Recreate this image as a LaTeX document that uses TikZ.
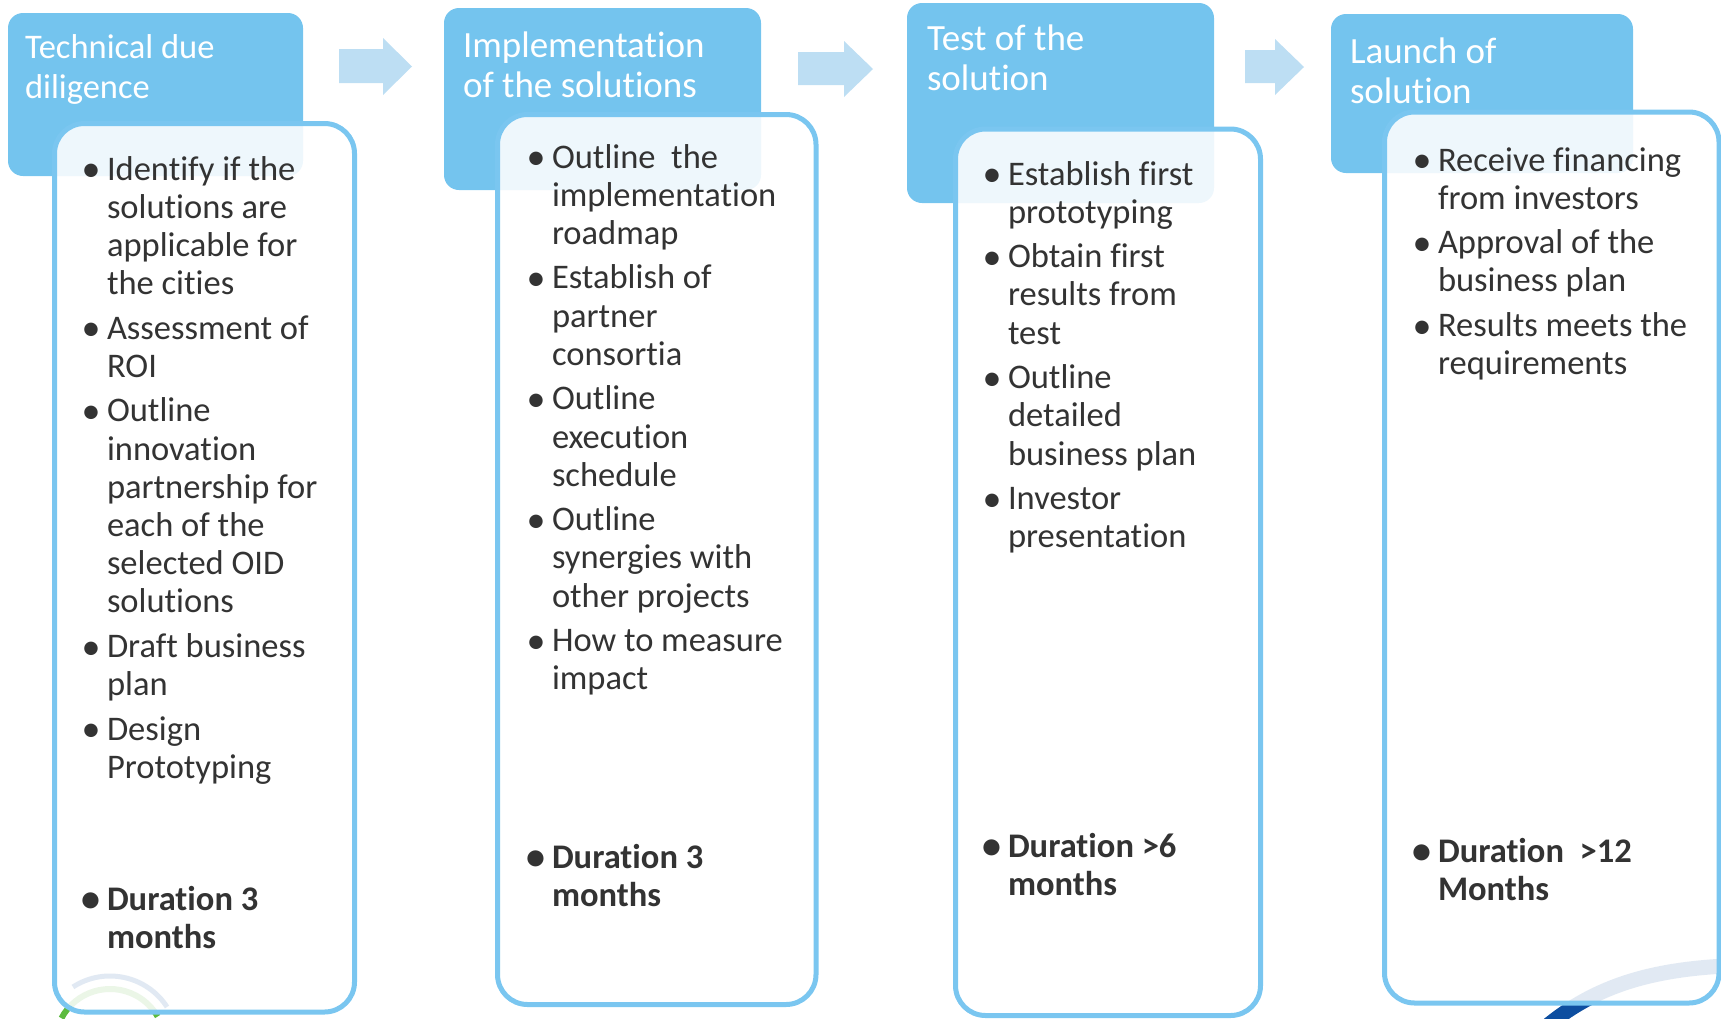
\documentclass[tikz,border=0pt]{standalone}
\usepackage{fontspec}
\setmainfont{Carlito}[Ligatures=NoCommon]

\definecolor{hdrblue}{HTML}{74C4EE}
\definecolor{rimblue}{HTML}{7AC6F0}
\definecolor{arrowblue}{HTML}{BDDEF3}
\definecolor{inkgray}{HTML}{333333}
\definecolor{logoblue}{HTML}{0D4EA0}
\definecolor{logogreen}{HTML}{5DBB3F}

% hanging bullet items (lines broken with \newline so the hanging indent holds)
\newlength\bind
\setlength\bind{21pt}
\newcommand\bdot{\hspace*{-4.5pt}\raisebox{-1.8pt}{\fontsize{38}{38}\selectfont\textbullet}}
\newcommand\bpoint[1]{\hangindent=\bind\hangafter=1\noindent\makebox[\bind][l]{\bdot}#1\par}
% a block of bullet items whose reference point is the first baseline
\newcommand\blist[1]{\vtop{\hsize=340pt\parindent=0pt\parskip=6.3pt
  \let\\\newline\fontsize{34.5}{38.2}\selectfont #1}}
% header caption
\newcommand\hcap[2][37]{\vtop{\hsize=320pt\parindent=0pt
  \let\\\newline\fontsize{#1}{40}\selectfont #2}}

\tikzset{
  hdrbox/.style={fill=hdrblue, rounded corners=15pt, inner sep=0pt, outer sep=0pt, anchor=north west},
  card/.style={draw=rimblue, line width=5pt, fill=white, fill opacity=0.88, rounded corners=30pt,
    inner sep=0pt, outer sep=0pt, anchor=north west},
  hdrtext/.style={anchor=base west, inner sep=0pt, outer sep=0pt, text=white},
  bodytext/.style={anchor=base west, inner sep=0pt, outer sep=0pt, text=inkgray},
  flow/.style={fill=arrowblue, draw=none}
}

\begin{document}
\begin{tikzpicture}[x=1pt, y=-1pt]
\useasboundingbox (0,0) rectangle (1721,1018);

% logo fragments behind the cards
\draw[logoblue, line width=5pt] (110,1044) ++(-123:68) arc[start angle=-123, end angle=-33, radius=68];
\draw[logogreen, line width=6pt] (110,1044) ++(-152:55) arc[start angle=-152, end angle=-30, radius=55];
\draw[logoblue, line width=15pt] (1540,1032) .. controls (1592,986) and (1650,970) .. (1725,966);

% stage headers
\node[hdrbox, minimum width=295pt, minimum height=163pt] (h1) at (8,13) {};
\node[hdrbox, minimum width=317pt, minimum height=182pt] (h2) at (444,8) {};
\node[hdrbox, minimum width=307pt, minimum height=200pt] (h3) at (907,3) {};
\node[hdrbox, minimum width=302pt, minimum height=159pt] (h4) at (1331,14) {};

\node[hdrtext] (t1) at (25,58) {\hcap[34.5]{Technical due\\diligence}};
\node[hdrtext] (t2) at (463,57) {\hcap{Implementation\\of the solutions}};
\node[hdrtext] (t3) at (927,50) {\hcap{Test of the\\solution}};
\node[hdrtext] (t4) at (1350,63) {\hcap{Launch of\\solution}};

% block arrows between the stages
\fill[flow] (339,49) -- (383,49) -- (383,38) -- (412,66.5) -- (383,95) -- (383,83) -- (339,83) -- cycle;
\fill[flow] (798,52) -- (844,52) -- (844,41) -- (873,69) -- (844,97) -- (844,85) -- (798,85) -- cycle;
\fill[flow] (1245,50) -- (1275,50) -- (1275,39) -- (1304,67) -- (1275,95) -- (1275,83) -- (1245,83) -- cycle;

% content cards
\node[card, minimum width=300pt, minimum height=888.5pt] (c1) at (54.5,123.5) {};
\node[card, minimum width=318.5pt, minimum height=890pt] (c2) at (497.5,114.5) {};
\node[card, minimum width=305pt, minimum height=886.5pt] (c3) at (955.5,129) {};
\node[card, minimum width=334.5pt, minimum height=891pt] (c4) at (1384.5,112) {};

% card contents
\node[bodytext] (b1) at (86,180) {\blist{%
  \bpoint{Identify if the\\solutions are\\applicable for\\the cities}
  \bpoint{Assessment of\\ROI}
  \bpoint{Outline\\innovation\\partnership for\\each of the\\selected OID\\solutions}
  \bpoint{Draft business\\plan}
  \bpoint{Design\\Prototyping}}};
\node[bodytext] (d1) at (86,910) {\blist{\bfseries\bpoint{Duration 3\\months}}};

\node[bodytext] (b2) at (531,168) {\blist{%
  \bpoint{Outline\ \ the\\implementation\\roadmap}
  \bpoint{Establish of\\partner\\consortia}
  \bpoint{Outline\\execution\\schedule}
  \bpoint{Outline\\synergies with\\other projects}
  \bpoint{How to measure\\impact}}};
\node[bodytext] (d2) at (531,868) {\blist{\bfseries\bpoint{Duration 3\\months}}};

\node[bodytext] (b3) at (987,185) {\blist{%
  \bpoint{Establish first\\prototyping}
  \bpoint{Obtain first\\results from\\test}
  \bpoint{Outline\\detailed\\business plan}
  \bpoint{Investor\\presentation}}};
\node[bodytext] (d3) at (987,857) {\blist{\bfseries\bpoint{Duration >6\\months}}};

\node[bodytext] (b4) at (1417,171) {\blist{%
  \bpoint{Receive financing\\from investors}
  \bpoint{Approval of the\\business plan}
  \bpoint{Results meets the\\requirements}}};
\node[bodytext] (d4) at (1417,862) {\blist{\bfseries\bpoint{Duration\ \ >12\\Months}}};
\end{tikzpicture}
\end{document}
